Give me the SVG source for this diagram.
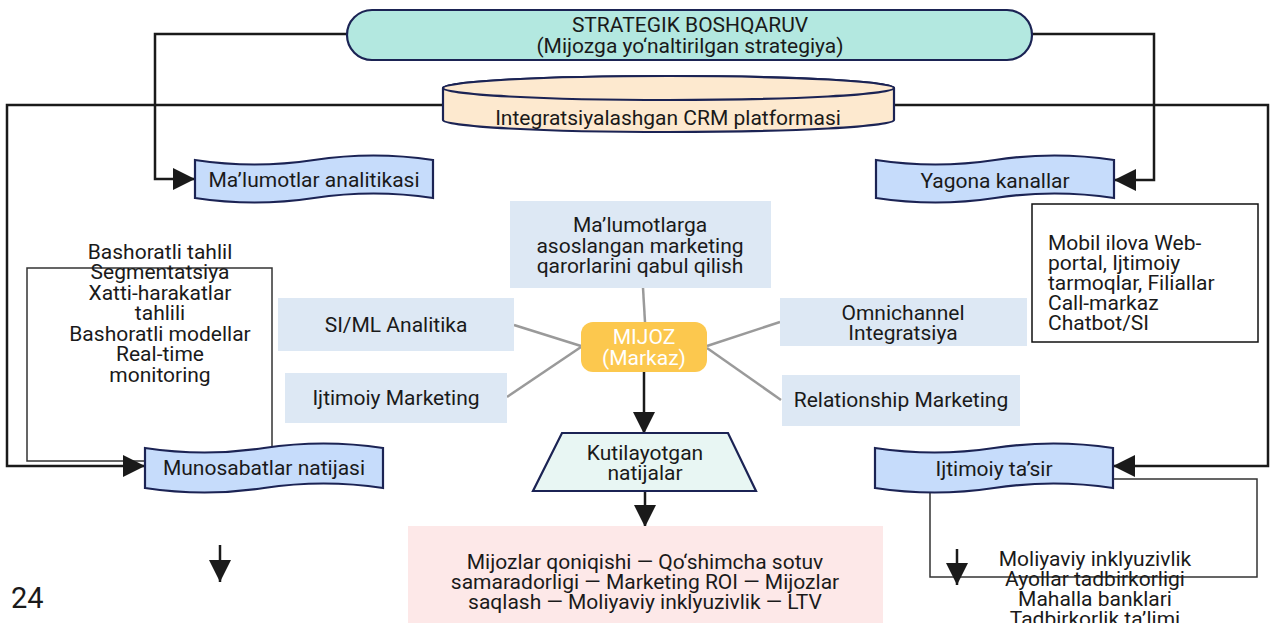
<svg xmlns="http://www.w3.org/2000/svg" width="1270" height="623" viewBox="0 0 1270 623">
<defs>
<style>
text{font-family:Roboto,"Liberation Sans",sans-serif;font-size:21px;fill:#1a1a1a}
.c{text-anchor:middle}
.tape{fill:#c6dcfb;stroke:#1b2354;stroke-width:2.2}
.conn{fill:none;stroke:#1a1a1a;stroke-width:2.5}
.thin{fill:none;stroke:#333;stroke-width:1.5}
.spoke{stroke:#9a9a9a;stroke-width:2.5}
.soft{fill:#dde8f4}
.w{fill:#ffffff}
</style>
<marker id="ah" viewBox="0 0 22 22" refX="22" refY="11" markerWidth="22" markerHeight="22" markerUnits="userSpaceOnUse" orient="auto">
<path d="M0,0 L22,11 L0,22 Z" fill="#1a1a1a"/>
</marker>
<clipPath id="omniClip"><rect x="780" y="298" width="247" height="46"/></clipPath>
</defs>
<rect width="1270" height="623" fill="#ffffff"/>

<g id="connectors">
<rect class="thin" x="27" y="268" width="245" height="193"/>
<rect class="thin" x="930" y="479" width="327" height="98" stroke="#111"/>
<polyline class="conn" points="347,34 155,34 155,179 195,179" marker-end="url(#ah)"/>
<polyline class="conn" points="1032,34 1154,34 1154,180 1114,180" marker-end="url(#ah)"/>
<polyline class="conn" points="443,105 7,105 7,466 145,466" marker-end="url(#ah)"/>
<polyline class="conn" points="894,105 1268,105 1268,466 1113,466" marker-end="url(#ah)"/>
<line class="conn" x1="644" y1="372" x2="644" y2="434" marker-end="url(#ah)"/>
<line class="conn" x1="645" y1="491" x2="645" y2="527" marker-end="url(#ah)"/>
<line class="conn" x1="220" y1="545" x2="220" y2="582" marker-end="url(#ah)"/>
<line class="conn" x1="957" y1="549" x2="957" y2="585" marker-end="url(#ah)"/>
<line class="spoke" x1="643" y1="288" x2="645" y2="322"/>
<line class="spoke" x1="581" y1="346" x2="514" y2="325"/>
<line class="spoke" x1="581" y1="347" x2="507" y2="397"/>
<line class="spoke" x1="707" y1="346" x2="780" y2="322"/>
<line class="spoke" x1="707" y1="348" x2="781" y2="400"/>
</g>

<g id="strategik">
<rect x="347" y="10" width="685" height="50" rx="25" fill="#b3e8e0" stroke="#1b2354" stroke-width="2.2"/>
<text class="c" x="690" y="32">STRATEGIK BOSHQARUV</text>
<text class="c" x="690" y="53">(Mijozga yo‘naltirilgan strategiya)</text>
</g>

<g id="crm">
<path d="M443,88 L443,120 A225.5,12 0 0 0 894,120 L894,88 A225.5,12 0 0 0 443,88 Z" fill="#fde9cf" stroke="#1b2354" stroke-width="2.2"/>
<ellipse cx="668.5" cy="88" rx="225.5" ry="12" fill="#fde9cf" stroke="#1b2354" stroke-width="2.2"/>
<text class="c" x="668" y="125">Integratsiyalashgan CRM platformasi</text>
</g>

<g id="malumotlar-analitikasi">
<path class="tape" d="M195,160 Q254.5,169 314,160 Q373.5,151 433,160 L433,198 Q373.5,189 314,198 Q254.5,207 195,198 Z"/>
<text class="c" x="314" y="187">Ma’lumotlar analitikasi</text>
</g>

<g id="yagona-kanallar">
<path class="tape" d="M876,160 Q935.5,169 995,160 Q1054.5,151 1114,160 L1114,198 Q1054.5,189 995,198 Q935.5,207 876,198 Z"/>
<text class="c" x="995" y="188">Yagona kanallar</text>
</g>

<g id="analitika-list">
<text class="c" x="160" y="259">Bashoratli tahlil</text>
<text class="c" x="160" y="279">Segmentatsiya</text>
<text class="c" x="160" y="300">Xatti-harakatlar</text>
<text class="c" x="160" y="320">tahlili</text>
<text class="c" x="160" y="341">Bashoratli modellar</text>
<text class="c" x="160" y="361">Real-time</text>
<text class="c" x="160" y="382">monitoring</text>
</g>

<g id="kanallar-list">
<rect x="1032" y="204" width="226" height="138" fill="#fff" stroke="#111" stroke-width="1.5"/>
<text x="1048" y="250">Mobil ilova Web-</text>
<text x="1048" y="270">portal, Ijtimoiy</text>
<text x="1048" y="290">tarmoqlar, Filiallar</text>
<text x="1048" y="310">Call-markaz</text>
<text x="1048" y="330">Chatbot/SI</text>
</g>

<g id="qarorlar">
<rect class="soft" x="510" y="201" width="261" height="87"/>
<text class="c" x="640" y="232">Ma’lumotlarga</text>
<text class="c" x="640" y="253">asoslangan marketing</text>
<text class="c" x="640" y="273">qarorlarini qabul qilish</text>
</g>

<g id="siml">
<rect class="soft" x="278" y="298" width="236" height="53"/>
<text class="c" x="396" y="332">SI/ML Analitika</text>
</g>

<g id="ijtimoiy-marketing">
<rect class="soft" x="285" y="373" width="222" height="50"/>
<text class="c" x="396" y="405">Ijtimoiy Marketing</text>
</g>

<g id="omnichannel">
<rect class="soft" x="780" y="298" width="247" height="48"/>
<g clip-path="url(#omniClip)">
<text class="c" x="903" y="320">Omnichannel</text>
<text class="c" x="903" y="340">Integratsiya</text>
</g>
</g>

<g id="relationship">
<rect class="soft" x="782" y="375" width="238" height="51"/>
<text class="c" x="901" y="407">Relationship Marketing</text>
</g>

<g id="mijoz">
<rect x="581" y="322" width="126" height="50" rx="12" fill="#fcc84e"/>
<text class="c w" x="644" y="344">MIJOZ</text>
<text class="c w" x="644" y="365">(Markaz)</text>
</g>

<g id="kutilayotgan">
<polygon points="562,433 728,433 756,491 533,491" fill="#e8f6f3" stroke="#1b2354" stroke-width="2.2"/>
<text class="c" x="645" y="460">Kutilayotgan</text>
<text class="c" x="645" y="480">natijalar</text>
</g>

<g id="natijalar-list">
<rect x="408" y="526" width="475" height="97" fill="#fde8e8"/>
<text class="c" x="645" y="569">Mijozlar qoniqishi — Qo‘shimcha sotuv</text>
<text class="c" x="645" y="589">samaradorligi — Marketing ROI —  Mijozlar</text>
<text class="c" x="645" y="609">saqlash — Moliyaviy inklyuzivlik — LTV</text>
</g>

<g id="munosabatlar">
<path class="tape" d="M145,448 Q204.5,457 264,448 Q323.5,439 383,448 L383,488 Q323.5,479 264,488 Q204.5,497 145,488 Z"/>
<text class="c" x="264" y="475">Munosabatlar natijasi</text>
</g>

<g id="ijtimoiy-tasir">
<path class="tape" d="M875,448 Q934.5,457 994,448 Q1053.5,439 1113,448 L1113,488 Q1053.5,479 994,488 Q934.5,497 875,488 Z"/>
<text class="c" x="994" y="476">Ijtimoiy ta’sir</text>
</g>

<g id="tasir-list">
<text class="c" x="1095" y="566">Moliyaviy inklyuzivlik</text>
<text class="c" x="1095" y="586">Ayollar tadbirkorligi</text>
<text class="c" x="1095" y="606">Mahalla banklari</text>
<text class="c" x="1095" y="626">Tadbirkorlik ta’limi</text>
</g>

<g id="page-number">
<text x="11" y="608" style="font-size:29px">24</text>
</g>
</svg>
